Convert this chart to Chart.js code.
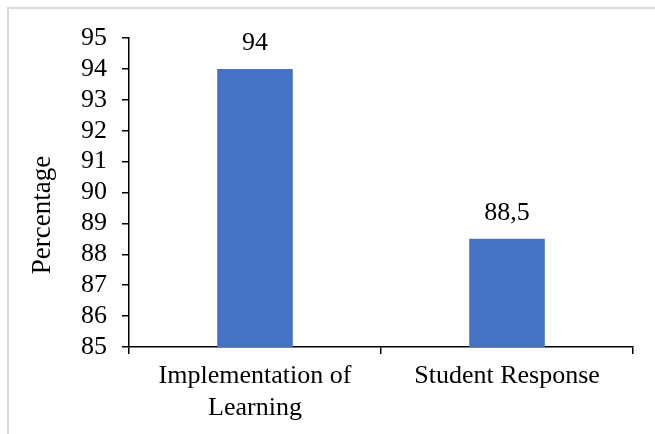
<!DOCTYPE html>
<html>
<head>
<meta charset="utf-8">
<script src="https://cdn.jsdelivr.net/npm/chart.js@4"></script>
<style>
  html, body { margin: 0; padding: 0; background: #fff; }
  #wrap { width: 655px; height: 434px; position: relative; }
</style>
</head>
<body>
<div id="wrap"><canvas id="grafico"></canvas></div>
<script>
// datos
const categorias = [["Implementation of", "Learning"], "Student Response"];
const valores = [94, 88.5];
const tituloY = "Percentage";
const yMin = 85;
const yMax = 95;
const yPaso = 1;

const familia = "'Liberation Serif', 'Times New Roman', serif";
const fuente = { family: familia, size: 26 };

// marco gris arriba e izquierda
const marco = {
  id: "marco",
  beforeDraw(chart) {
    const c = chart.ctx;
    c.save();
    c.strokeStyle = "#d9d9d9";
    c.lineWidth = 2;
    c.beginPath();
    c.moveTo(8, 434);
    c.lineTo(8, 8);
    c.lineTo(655, 8);
    c.stroke();
    c.restore();
  }
};

// etiquetas encima de las barras + titulo del eje
const etiquetas = {
  id: "etiquetas",
  afterDatasetsDraw(chart) {
    const c = chart.ctx;
    const meta = chart.getDatasetMeta(0);
    c.save();
    c.font = fuente.size + "px " + familia;
    c.fillStyle = "#000";
    c.textAlign = "center";
    c.textBaseline = "bottom";
    meta.data.forEach((bar, i) => {
      const txt = String(valores[i]).replace(".", ",");
      c.fillText(txt, bar.x, bar.y - 13);
    });
    // titulo vertical
    c.font = "27px " + familia;
    c.textBaseline = "middle";
    c.translate(43, 215);
    c.rotate(-Math.PI / 2);
    c.fillText(tituloY, 0, 0);
    c.restore();
  }
};

new Chart(document.getElementById("grafico"), {
  type: "bar",
  data: {
    labels: categorias,
    datasets: [{
      data: valores,
      backgroundColor: "#4472C4",
      barPercentage: 0.3,
      categoryPercentage: 1
    }]
  },
  options: {
    responsive: true,
    maintainAspectRatio: false,
    animation: false,
    layout: { padding: { top: 38, right: 22, left: 0, bottom: 0 } },
    plugins: { legend: { display: false }, tooltip: { enabled: false } },
    scales: {
      x: {
        grid: { drawOnChartArea: false, drawTicks: true, tickLength: 7, color: "#000", lineWidth: 1.5 },
        border: { display: true, color: "#000", width: 1.5 },
        ticks: { color: "#000", font: fuente, padding: 7, maxRotation: 0, autoSkip: false },
        afterFit(scale) { scale.height = 87; }
      },
      y: {
        min: yMin,
        max: yMax,
        grid: { drawOnChartArea: false, drawTicks: true, tickLength: 7, color: "#000", lineWidth: 1.5 },
        border: { display: true, color: "#000", width: 1.5 },
        ticks: { stepSize: yPaso, color: "#000", font: fuente, padding: 15, autoSkip: false },
        afterFit(scale) { scale.width = 129; }
      }
    }
  },
  plugins: [marco, etiquetas]
});
</script>
</body>
</html>
